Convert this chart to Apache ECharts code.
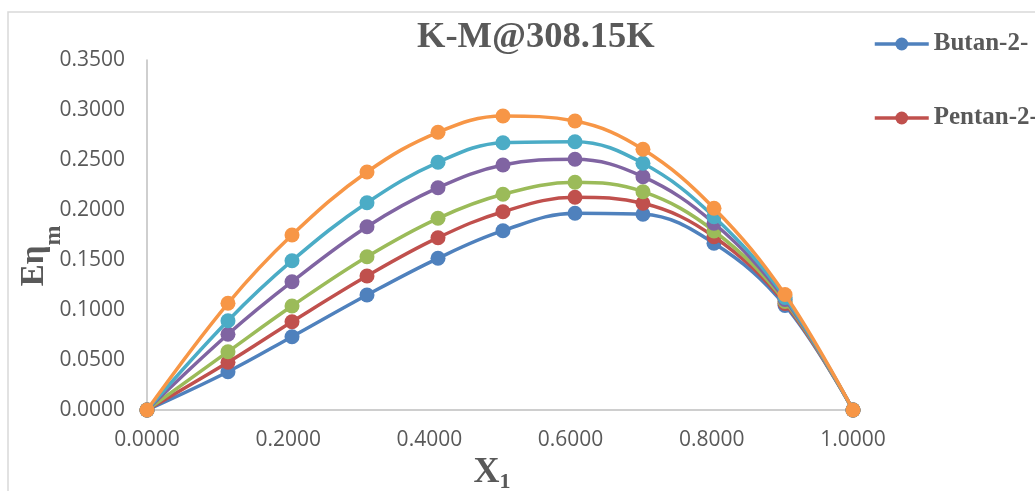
<!DOCTYPE html>
<html>
<head>
<meta charset="utf-8">
<script src="https://cdn.jsdelivr.net/npm/echarts@6/dist/echarts.min.js"></script>
<style>
  html, body { margin: 0; padding: 0; background: #ffffff; }
  #chart { width: 1035px; height: 491px; }
</style>
</head>
<body>
<div id="chart"></div>
<script>
// ---- data ----
const x1 = [0, 0.1147, 0.2054, 0.3116, 0.4122, 0.5042, 0.6062, 0.7025, 0.8031, 0.9037, 1.0];
const seriesNames = ['Butan-2-', 'Pentan-2-', 'Hexan-2-', 'Heptan-2-', 'Octan-2-', 'Nonan-2-'];
const butan   = [0, 0.0383, 0.0733, 0.1150, 0.1517, 0.1793, 0.1967, 0.1957, 0.1667, 0.1045, 0];
const pentan  = [0, 0.0477, 0.0883, 0.1340, 0.1723, 0.1983, 0.2127, 0.2067, 0.1733, 0.1065, 0];
const hexan   = [0, 0.0583, 0.1040, 0.1533, 0.1917, 0.2157, 0.2277, 0.2183, 0.1790, 0.1085, 0];
const heptan  = [0, 0.0757, 0.1283, 0.1833, 0.2223, 0.2450, 0.2507, 0.2333, 0.1867, 0.1105, 0];
const octan   = [0, 0.0893, 0.1493, 0.2073, 0.2477, 0.2673, 0.2683, 0.2467, 0.1933, 0.1125, 0];
const nonan   = [0, 0.1067, 0.1750, 0.2380, 0.2777, 0.2940, 0.2890, 0.2607, 0.2017, 0.1155, 0];
const allValues = [butan, pentan, hexan, heptan, octan, nonan];
const colors = ['#4F81BD', '#C0504D', '#9BBB59', '#8064A2', '#4BACC6', '#F79646'];
const titleText = 'K-M@308.15K';
const legendShown = ['Butan-2-', 'Pentan-2-'];

const chart = echarts.init(document.getElementById('chart'), null, { renderer: 'canvas' });

const series = allValues.map((vals, i) => ({
  name: seriesNames[i],
  type: 'line',
  smooth: 0.38,
  symbol: 'circle',
  symbolSize: 15,
  lineStyle: { width: 3.5, color: colors[i] },
  itemStyle: { color: colors[i] },
  data: x1.map((x, j) => [x, vals[j]]),
  z: 2 + i
}));

const serif = '"Liberation Serif", "Times New Roman", serif';
const sans = '"Open Sans", "Liberation Sans", sans-serif';

chart.setOption({
  animation: false,
  backgroundColor: '#ffffff',
  color: colors,
  title: {
    text: titleText,
    left: 412,
    top: 14,
    textStyle: { fontFamily: serif, fontWeight: 'bold', fontSize: 36.5, color: '#595959' }
  },
  legend: {
    data: legendShown,
    orient: 'vertical',
    left: 868,
    top: 26,
    itemWidth: 54,
    itemHeight: 16,
    itemGap: 48,
    lineStyle: { width: 3.5 },
    textStyle: { fontFamily: serif, fontWeight: 'bold', fontSize: 25, color: '#595959', lineHeight: 26 }
  },
  grid: { left: 147, right: 182, top: 60, bottom: 81, containLabel: false, outerBoundsMode: 'none' },
  xAxis: {
    type: 'value',
    min: 0, max: 1, interval: 0.2,
    name: '{a|X}{s|1}',
    nameLocation: 'middle',
    nameGap: 43,
    nameMoveOverlap: false,
    nameTextStyle: {
      padding: [0, 16, 0, 0],
      rich: {
        a: { fontFamily: serif, fontWeight: 'bold', fontSize: 36, color: '#595959', lineHeight: 40 },
        s: { fontFamily: serif, fontWeight: 'bold', fontSize: 22, color: '#595959', lineHeight: 18, verticalAlign: 'bottom' }
      }
    },
    axisLine: { show: true, lineStyle: { color: '#BFBFBF', width: 1.5 } },
    axisTick: { show: false },
    splitLine: { show: false },
    axisLabel: {
      formatter: v => v.toFixed(4),
      fontFamily: sans, fontSize: 21, color: '#595959', margin: 20
    }
  },
  yAxis: {
    type: 'value',
    min: 0, max: 0.35, interval: 0.05,
    name: '{a|E\u03b7}{s|m}',
    nameLocation: 'middle',
    nameRotate: 90,
    nameGap: 81,
    nameMoveOverlap: false,
    nameTextStyle: {
      padding: [0, 42, 0, 0],
      rich: {
        a: { fontFamily: serif, fontWeight: 'bold', fontSize: 33, color: '#595959', lineHeight: 64 },
        s: { fontFamily: serif, fontWeight: 'bold', fontSize: 24, color: '#595959', lineHeight: 16, verticalAlign: 'bottom' }
      }
    },
    axisLine: { show: true, lineStyle: { color: '#BFBFBF', width: 1.5 } },
    axisTick: { show: false },
    splitLine: { show: false },
    axisLabel: {
      formatter: v => v.toFixed(4),
      fontFamily: sans, fontSize: 21, color: '#595959', margin: 22
    }
  },
  graphic: [{
    type: 'rect',
    silent: true,
    shape: { x: 8, y: 12, width: 1200, height: 700 },
    style: { fill: 'none', stroke: '#D9D9D9', lineWidth: 1.5 },
    z: -1
  }],
  series: series
});
</script>
</body>
</html>
